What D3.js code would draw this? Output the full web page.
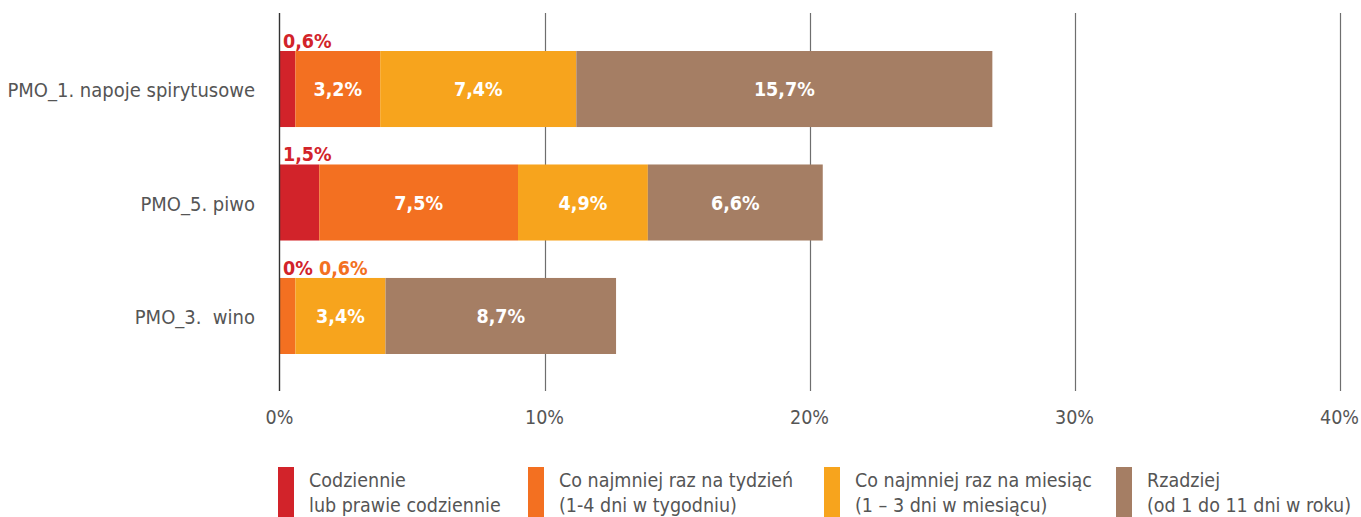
<!DOCTYPE html>
<html>
<head>
<meta charset="utf-8">
<script src="https://cdn.jsdelivr.net/npm/d3@7"></script>
<style>
  html, body { margin: 0; padding: 0; background: #fff; }
  svg { display: block; }
  text { font-family: "DejaVu Sans Condensed", "Liberation Sans Narrow", sans-serif; }
</style>
</head>
<body>
<svg id="chart" width="1361" height="517"></svg>
<script>
// Categories (drinks) and frequency series, values in percent
const categories = ["PMO_1. napoje spirytusowe", "PMO_5. piwo", "PMO_3.  wino"];
const seriesKeys = ["daily", "weekly", "monthly", "rarely"];
const daily   = [0.6, 1.5, 0.0];
const weekly  = [3.2, 7.5, 0.6];
const monthly = [7.4, 4.9, 3.4];
const rarely  = [15.7, 6.6, 8.7];
const xTicks = [0, 10, 20, 30, 40];
const legendLines = [
  ["Codziennie", "lub prawie codziennie"],
  ["Co najmniej raz na tydzień", "(1-4 dni w tygodniu)"],
  ["Co najmniej raz na miesiąc", "(1 – 3 dni w miesiącu)"],
  ["Rzadziej", "(od 1 do 11 dni w roku)"]
];
const colors = ["#d2232a", "#f37021", "#f7a41d", "#a57e64"];

const fmt = v => (Number.isInteger(v) ? v.toString() : v.toFixed(1).replace(".", ",")) + "%";

const rows = categories.map((c, i) => ({
  cat: c, daily: daily[i], weekly: weekly[i], monthly: monthly[i], rarely: rarely[i]
}));
const stacked = d3.stack().keys(seriesKeys)(rows);

const svg = d3.select("#chart");
const x = d3.scaleLinear().domain([0, 40]).range([279.5, 1339.5]);
const y = d3.scaleBand().domain(categories).range([51, 354]).paddingInner(0.33).paddingOuter(0);

// vertical grid lines, extending into tick marks below the plot
svg.append("g").selectAll("line").data(xTicks.slice(1)).join("line")
  .attr("x1", d => Math.round(x(d)) + 0.5).attr("x2", d => Math.round(x(d)) + 0.5)
  .attr("y1", 13).attr("y2", 391)
  .attr("stroke", "#6e6e6e").attr("stroke-width", 1.2);

// bars
const layer = svg.append("g").selectAll("g").data(stacked).join("g")
  .attr("fill", (d, i) => colors[i]);
layer.selectAll("rect").data(d => d.map(v => ({ v, key: d.key }))).join("rect")
  .attr("x", d => x(d.v[0]))
  .attr("y", d => y(d.v.data.cat))
  .attr("width", d => x(d.v[1]) - x(d.v[0]))
  .attr("height", y.bandwidth());

// zero axis line
svg.append("line")
  .attr("x1", 279.5).attr("x2", 279.5).attr("y1", 13).attr("y2", 391)
  .attr("stroke", "#333").attr("stroke-width", 1.4);

// labels inside bars (wide enough segments)
const inside = [];
stacked.forEach(s => s.forEach(v => {
  const val = v[1] - v[0];
  if (val >= 2) inside.push({ v, val });
}));
svg.append("g").selectAll("text").data(inside).join("text")
  .attr("x", d => (x(d.v[0]) + x(d.v[1])) / 2)
  .attr("y", d => y(d.v.data.cat) + y.bandwidth() / 2)
  .attr("dy", "0.38em")
  .attr("text-anchor", "middle")
  .attr("fill", "#fff").attr("font-weight", "bold").attr("font-size", 19.5)
  .text(d => fmt(d.val));

// labels above narrow segments
const above = [];
categories.forEach((c, i) => {
  let offset = 0;
  seriesKeys.forEach((k, si) => {
    const val = rows[i][k];
    if (val < 2) {
      above.push({ cat: c, val, color: colors[si], offset });
      offset += (val === 0 ? 36 : 0);
    }
  });
});
svg.append("g").selectAll("text").data(above).join("text")
  .attr("x", d => 283 + d.offset)
  .attr("y", d => y(d.cat) - 3)
  .attr("fill", d => d.color).attr("font-weight", "bold").attr("font-size", 19.5)
  .text(d => fmt(d.val));

// category labels
svg.append("g").selectAll("text").data(categories).join("text")
  .attr("x", 255)
  .attr("y", d => y(d) + y.bandwidth() / 2)
  .attr("dy", "0.42em")
  .attr("text-anchor", "end")
  .attr("fill", "#555").attr("font-size", 20)
  .style("white-space", "pre")
  .text(d => d);

// x tick labels
svg.append("g").selectAll("text").data(xTicks).join("text")
  .attr("x", d => x(d))
  .attr("y", 424)
  .attr("text-anchor", "middle")
  .attr("fill", "#555").attr("font-size", 19.5)
  .text(d => d + "%");

// legend
const legendX = [278, 528, 824, 1116];
const lg = svg.append("g").selectAll("g").data(legendLines).join("g")
  .attr("transform", (d, i) => `translate(${legendX[i]},467)`);
lg.append("rect").attr("width", 16).attr("height", 50).attr("fill", (d, i) => colors[i]);
lg.append("text").attr("x", 31).attr("y", 20)
  .attr("fill", "#555").attr("font-size", 19.5).text(d => d[0]);
lg.append("text").attr("x", 31).attr("y", 45)
  .attr("fill", "#555").attr("font-size", 19.5).text(d => d[1]);
</script>
</body>
</html>
